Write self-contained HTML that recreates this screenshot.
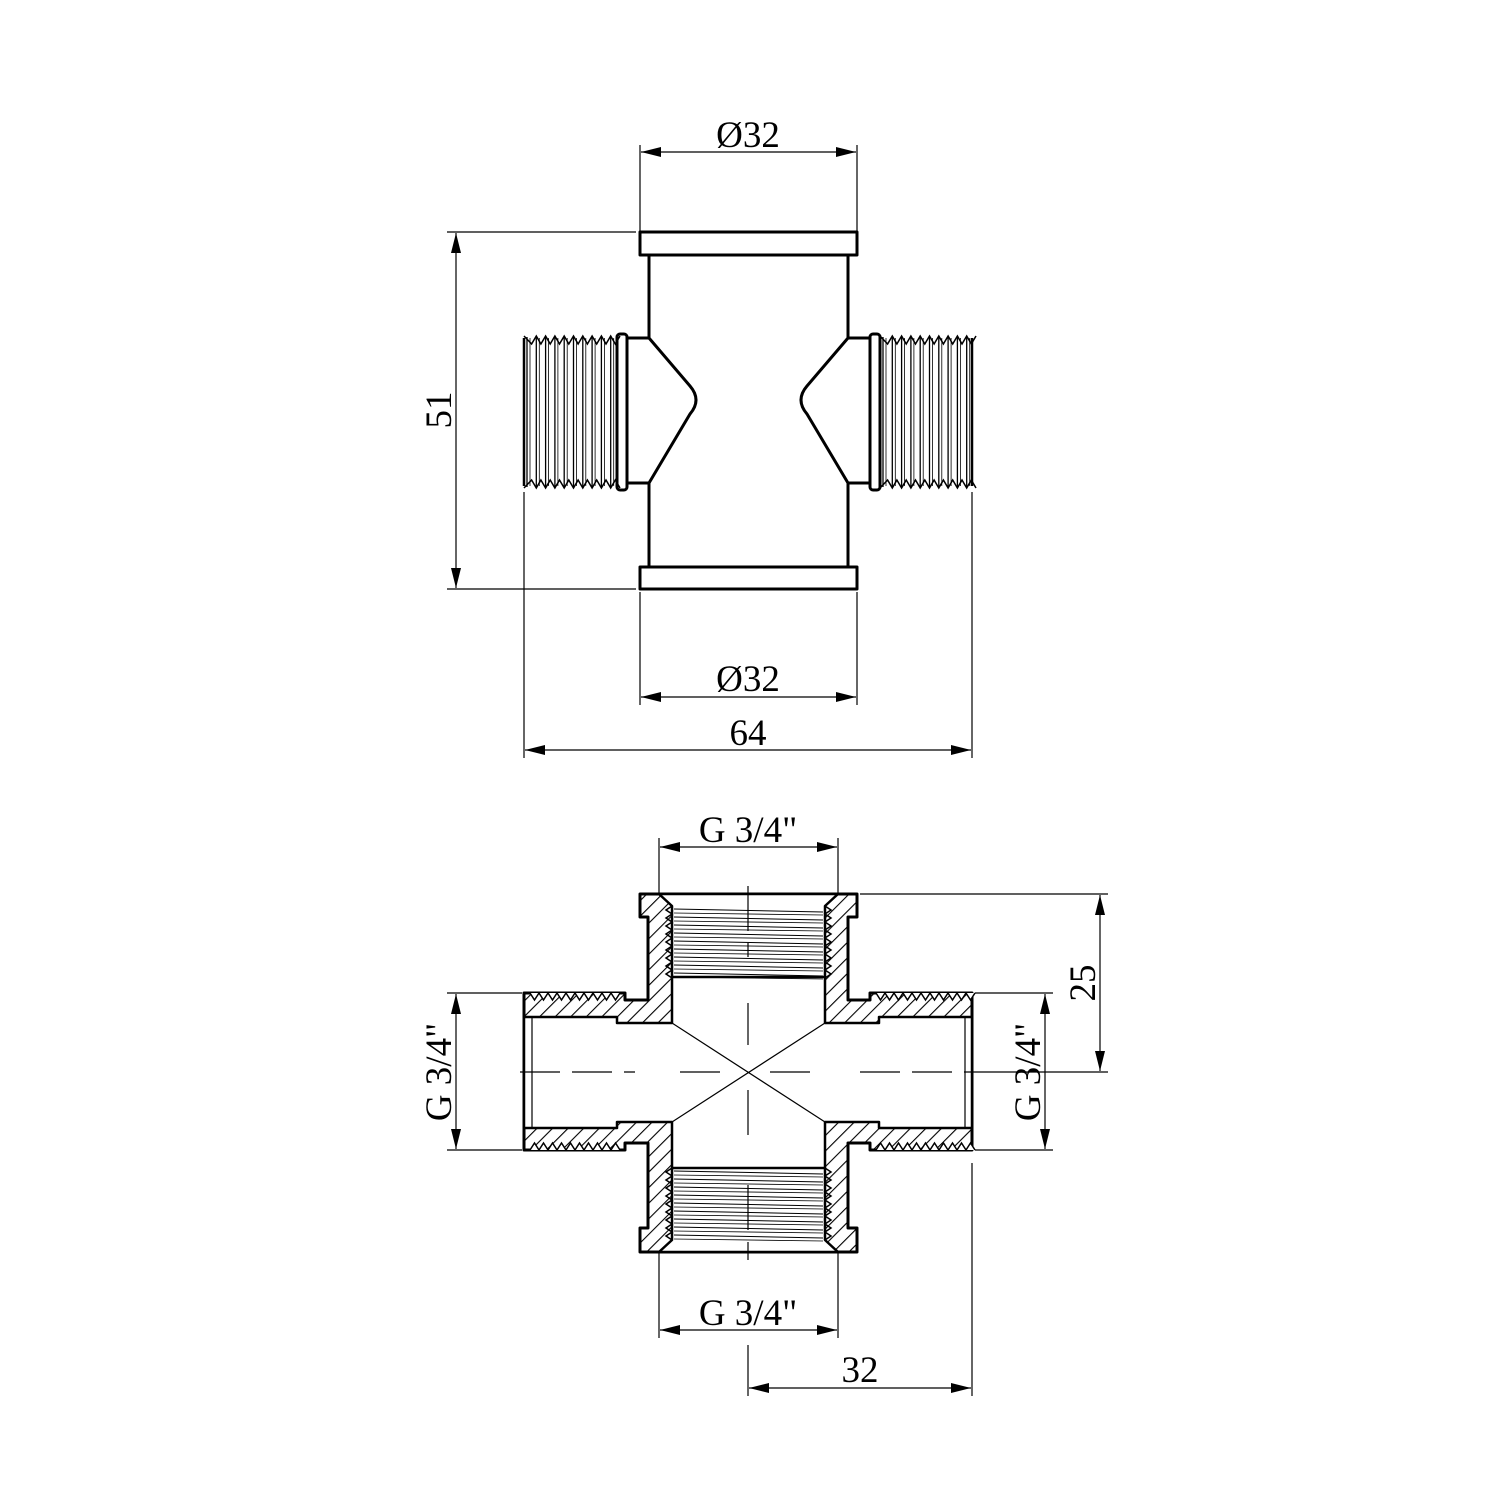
<!DOCTYPE html>
<html><head><meta charset="utf-8"><style>
html,body{margin:0;padding:0;background:#fff;}
svg{display:block}
text{font-family:"Liberation Serif",serif;font-size:37px;fill:#000}
</style></head><body>
<svg id="s" width="1500" height="1500" viewBox="0 0 1500 1500" xmlns="http://www.w3.org/2000/svg">
<defs>
<pattern id="h" width="11" height="11" patternUnits="userSpaceOnUse" patternTransform="rotate(45)">
<rect width="11" height="11" fill="#fff"/><line x1="0" y1="0" x2="0" y2="11" stroke="#000" stroke-width="2.2"/>
</pattern>
<marker id="a" viewBox="0 0 20 10" refX="20" refY="5" markerWidth="20" markerHeight="10" markerUnits="userSpaceOnUse" orient="auto-start-reverse"><path d="M0,0 L20,5 L0,10z" fill="#000"/></marker>
</defs>
<g stroke="#000" stroke-width="1.2" fill="none">
<line x1="640" y1="145" x2="640" y2="232"/><line x1="857" y1="145" x2="857" y2="232"/>
<line x1="641" y1="152" x2="856" y2="152" marker-start="url(#a)" marker-end="url(#a)"/>
<line x1="447" y1="232" x2="636" y2="232"/><line x1="447" y1="589" x2="636" y2="589"/>
<line x1="456" y1="233" x2="456" y2="588" marker-start="url(#a)" marker-end="url(#a)"/>
<line x1="640" y1="592" x2="640" y2="705"/><line x1="857" y1="592" x2="857" y2="705"/>
<line x1="641" y1="697" x2="856" y2="697" marker-start="url(#a)" marker-end="url(#a)"/>
<line x1="524" y1="492" x2="524" y2="758"/><line x1="972" y1="492" x2="972" y2="758"/>
<line x1="525" y1="750" x2="971" y2="750" marker-start="url(#a)" marker-end="url(#a)"/>
<line x1="659" y1="838" x2="659" y2="893"/><line x1="838" y1="838" x2="838" y2="893"/>
<line x1="660" y1="847" x2="837" y2="847" marker-start="url(#a)" marker-end="url(#a)"/>
<line x1="860" y1="894" x2="1108" y2="894"/><line x1="980" y1="1072" x2="1108" y2="1072"/>
<line x1="1100" y1="895" x2="1100" y2="1071" marker-start="url(#a)" marker-end="url(#a)"/>
<line x1="447" y1="993" x2="522" y2="993"/><line x1="447" y1="1150" x2="522" y2="1150"/>
<line x1="456" y1="994" x2="456" y2="1149" marker-start="url(#a)" marker-end="url(#a)"/>
<line x1="975" y1="993" x2="1053" y2="993"/><line x1="975" y1="1150" x2="1053" y2="1150"/>
<line x1="1045" y1="994" x2="1045" y2="1149" marker-start="url(#a)" marker-end="url(#a)"/>
<line x1="659" y1="1253" x2="659" y2="1338"/><line x1="838" y1="1253" x2="838" y2="1338"/>
<line x1="660" y1="1330" x2="837" y2="1330" marker-start="url(#a)" marker-end="url(#a)"/>
<line x1="972" y1="1163" x2="972" y2="1396"/><line x1="748" y1="1345" x2="748" y2="1396"/>
<line x1="749" y1="1388" x2="971" y2="1388" marker-start="url(#a)" marker-end="url(#a)"/>
</g>
<g stroke="none">
<text x="748" y="147" text-anchor="middle">Ø32</text>
<text x="748" y="691" text-anchor="middle">Ø32</text>
<text x="748" y="745" text-anchor="middle">64</text>
<text transform="translate(451,410) rotate(-90)" text-anchor="middle">51</text>
<text x="748" y="842" text-anchor="middle">G 3/4"</text>
<text x="748" y="1325" text-anchor="middle">G 3/4"</text>
<text x="860" y="1382" text-anchor="middle">32</text>
<text transform="translate(1095,983) rotate(-90)" text-anchor="middle">25</text>
<text transform="translate(451,1072) rotate(-90)" text-anchor="middle">G 3/4"</text>
<text transform="translate(1040,1072) rotate(-90)" text-anchor="middle">G 3/4"</text>
</g>
<g stroke="#000" stroke-width="3" fill="#fff" stroke-linejoin="round">
<rect x="640" y="232" width="217" height="23"/>
<rect x="640" y="567" width="217" height="22"/>
<path d="M649,255 V338 H627 V483 H649 V567 M649,338 L690,386 Q702,400 690,414 L649,483" fill="none"/>
<path d="M848,255 V338 H870 V483 H848 V567 M848,338 L807,386 Q795,400 807,414 L848,483" fill="none"/>
<rect x="617" y="334" width="10" height="156" rx="3"/>
<rect x="870" y="334" width="10" height="156" rx="3"/>
</g>
<g id="thr" stroke="#000" stroke-width="1" fill="none"></g>
<path d="M640,894 H857 V917 H848 V1000 H870 V993 H972 V1150 H870 V1143 H848 V1228 H857 V1252 H640 V1228 H648 V1143 H625 V1150 H524 V993 H625 V1000 H648 V917 H640Z" fill="url(#h)" stroke="#000" stroke-width="3" stroke-linejoin="round"/>
<path d="M659,894 H838 L825,906 V1023 H879 V1017 H972 V1128 H879 V1122 H825 V1240 L838,1252 H659 L672,1240 V1122 H617 V1128 H524 V1017 H617 V1023 H672 V906Z" fill="#fff" stroke="#000" stroke-width="2.5" stroke-linejoin="round"/>
<g stroke="#000" stroke-width="1.2" fill="none">
<line x1="532" y1="1017" x2="532" y2="1128"/><line x1="965" y1="1017" x2="965" y2="1128"/>
<line x1="672" y1="977" x2="825" y2="977" stroke-width="2.5"/><line x1="672" y1="1168" x2="825" y2="1168" stroke-width="2.5"/>
<line x1="672" y1="1023" x2="825" y2="1122"/><line x1="825" y1="1023" x2="672" y2="1122"/>
<path d="M520,1072 H635 M680,1072 H725 M770,1072 H815 M860,1072 H980" stroke-dasharray="40,12"/>
<path d="M748,886 V957 M748,1003 V1045 M748,1090 V1140 M748,1185 V1260" stroke-dasharray="45,12"/>
</g>
<g id="thr2" stroke="#000" stroke-width="1" fill="none"></g>
</svg>
<script>
var ns="http://www.w3.org/2000/svg";
function L(g,x1,y1,x2,y2,w){var l=document.createElementNS(ns,"line");l.setAttribute("x1",x1);l.setAttribute("y1",y1);l.setAttribute("x2",x2);l.setAttribute("y2",y2);if(w)l.setAttribute("stroke-width",w);g.appendChild(l);}
function P(g,d,w,f){var p=document.createElementNS(ns,"path");p.setAttribute("d",d);if(w)p.setAttribute("stroke-width",w);if(f)p.setAttribute("fill",f);g.appendChild(p);}
var g=document.getElementById("thr");
[[524,617],[880,972]].forEach(function(r){
  var d1="M"+r[0]+",336",d2="M"+r[0]+",488";
  for(var x=r[0]+3;x<r[1];x+=9.3){L(g,x,337,x,487,1.3);L(g,x+3,338,x+3,486,0.8);d1+=" L"+(x+4.6)+",344 L"+(x+9.3)+",336";d2+=" L"+(x+4.6)+",480 L"+(x+9.3)+",488";}
  P(g,d1,1.5);P(g,d2,1.5);
  L(g,r[0],338,r[0],486,2.5);L(g,r[1],338,r[1],486,2.5);
});
var g2=document.getElementById("thr2");
[[906,977],[1168,1240]].forEach(function(r){
  for(var y=r[0]+3;y<r[1];y+=8){L(g2,674,y,823,y+3,1);L(g2,674,y+4,823,y+6,0.8);}
  var dl="M672,"+r[0],dr="M825,"+r[0];
  for(var y=r[0];y<r[1];y+=8){dl+=" L666,"+(y+4)+" L672,"+(y+8);dr+=" L831,"+(y+4)+" L825,"+(y+8);}
  P(g2,dl,1.5);P(g2,dr,1.5);
});
[[530,620],[876,968]].forEach(function(r){
  var dt="M"+r[0]+",993",db="M"+r[0]+",1150";
  for(var x=r[0];x<r[1];x+=9){dt+=" L"+(x+4.5)+",1000 L"+(x+9)+",993";db+=" L"+(x+4.5)+",1143 L"+(x+9)+",1150";}
  P(g2,dt,1.5,"#fff");P(g2,db,1.5,"#fff");
});
</script>
</body></html>
